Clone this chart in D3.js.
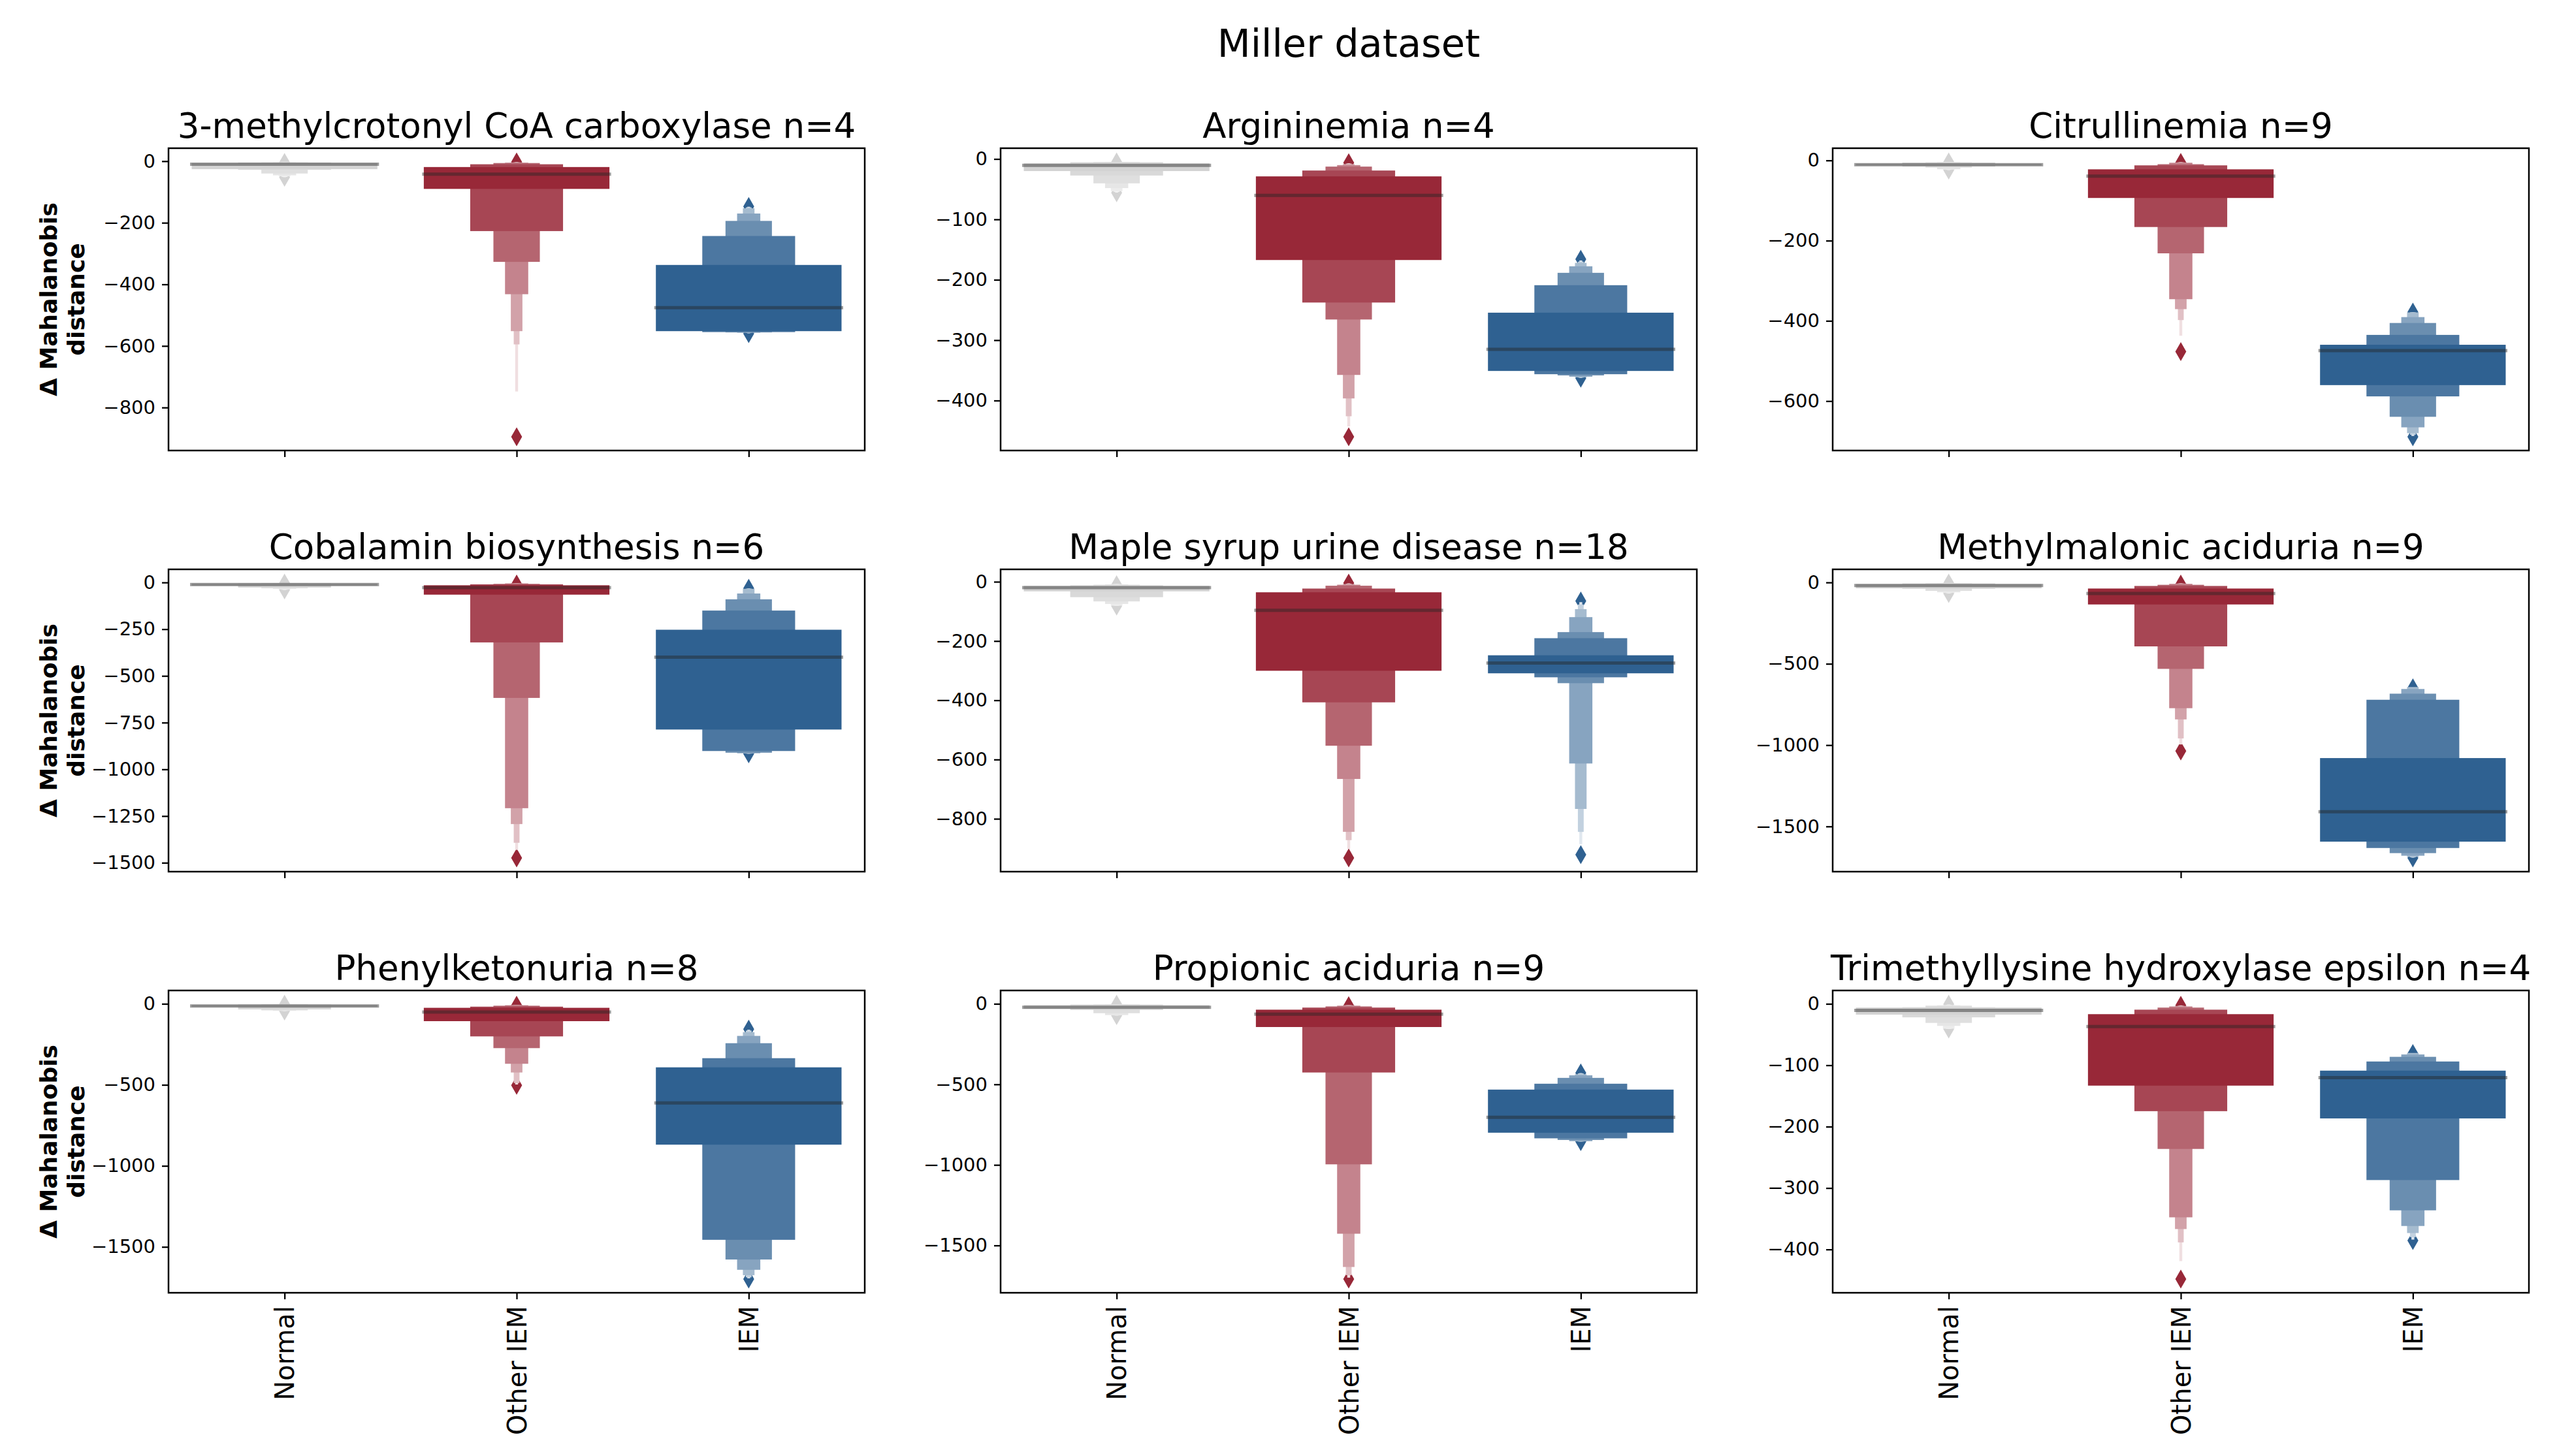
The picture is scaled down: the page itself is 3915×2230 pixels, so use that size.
<!DOCTYPE html>
<html>
<head>
<meta charset="utf-8">
<script src="https://d3js.org/d3.v7.min.js"></script>
<style>
  body { margin: 0; background: #fff; }
  text { font-family: "DejaVu Sans", sans-serif; fill: #000; }
</style>
</head>
<body>
<svg width="3915" height="2230"></svg>
<script>
// panel titles, one per disease
var titles = [
  "3-methylcrotonyl CoA carboxylase n=4", "Argininemia n=4", "Citrullinemia n=9",
  "Cobalamin biosynthesis n=6", "Maple syrup urine disease n=18", "Methylmalonic aciduria n=9",
  "Phenylketonuria n=8", "Propionic aciduria n=9", "Trimethyllysine hydroxylase epsilon n=4"
];
var groups = ["Normal", "Other IEM", "IEM"];
var groupColors = ["#d3d3d3", "#982838", "#2f6191"];

// medians per panel: [Normal, Other IEM, IEM]
var medians = [
  [-10, -42, -476],
  [-10.5, -60.3, -315.2],
  [-10.5, -39.2, -474.3],
  [-11.3, -27.6, -400],
  [-19.8, -96.4, -274.3],
  [-18.7, -67.7, -1409.4],
  [-13, -50.6, -611.8],
  [-21.8, -64, -704.1],
  [-10.7, -37, -120.2]
];

// letter values [low, high], from the quartile box outwards
var letterValues = [
  [ [[-26,-6],[-28,-4.5],[-40,-4],[-46,-4],[-49,-4],[-51,-4],[-52,-4]],
    [[-90,-19],[-227,-10],[-327,-6],[-432,-5],[-552,-4],[-595,-3.5],[-748,-3]],
    [[-552,-337],[-555,-243],[-556,-194],[-557,-170],[-557,-153],[-558,-150],[-559,-148]] ],
  [ [[-20,-7.2],[-27.4,-5.4],[-40.3,-5],[-48.2,-5],[-53.3,-5],[-54.5,-5],[-55.5,-5]],
    [[-167.3,-28.8],[-237.7,-19.1],[-265.8,-12.6],[-357.6,-10.1],[-396.5,-8.5],[-426,-7.5],[-442.8,-7]],
    [[-351,-254.5],[-356.4,-209],[-358.4,-188.5],[-360.5,-177.7],[-361.5,-172],[-362,-170],[-362.5,-168]] ],
  [ [[-13,-8],[-15,-5.5],[-18,-4.5],[-22,-4],[-23,-4],[-23.5,-4],[-24,-4]],
    [[-93.6,-22.2],[-166,-12.3],[-231.6,-9.4],[-346,-5.8],[-370.8,-5],[-398,-4.5],[-437,-4.2]],
    [[-560.2,-459.6],[-588.3,-435],[-639.2,-405.3],[-665.5,-390.6],[-680,-379],[-684,-378.5],[-687,-378.2]] ],
  [ [[-17.5,-5.5],[-27.6,-5],[-31,-4.5],[-34,-4.5],[-37,-4],[-39,-4],[-40,-4]],
    [[-65.2,-15],[-320.8,-10],[-617.8,-7.5],[-1208,-5],[-1293,-4.5],[-1393,-4],[-1431,-4]],
    [[-787,-253],[-902,-150.4],[-911,-90.2],[-914,-59],[-915,-34],[-916,-33],[-916.5,-32]] ],
  [ [[-32.4,-14],[-52,-12],[-66.4,-10],[-75,-9],[-80.6,-8],[-81,-8],[-81.5,-8]],
    [[-300.4,-35.6],[-407,-23],[-553.4,-13.4],[-665.6,-10],[-844,-8],[-872,-6.5],[-901,-5.5]],
    [[-309,-248.2],[-322.5,-190.5],[-342.3,-170],[-613.4,-119.4],[-766.8,-92.5],[-844.3,-76.7],[-885.4,-68.8]] ],
  [ [[-36,-10],[-38.9,-6],[-51.8,-5],[-60.5,-4.5],[-64,-4.5],[-66,-4.2],[-67,-4]],
    [[-135.3,-37.4],[-393,-21.6],[-531.2,-14.4],[-773,-8.6],[-842,-7],[-958.8,-6],[-996,-5.5]],
    [[-1593.6,-1079.7],[-1632.5,-721.2],[-1664,-683.8],[-1680,-655],[-1687,-643],[-1690,-646],[-1692,-647]] ],
  [ [[-20,-6],[-34.7,-4.5],[-40.5,-4],[-42,-4],[-43.5,-3.5],[-44,-3],[-44.5,-3]],
    [[-107,-24.6],[-201,-17.4],[-273.4,-11.6],[-370,-8.7],[-423.8,-7],[-488.9,-6],[-498,-7]],
    [[-869.2,-392],[-1456.4,-335.5],[-1578,-243],[-1641.5,-198],[-1675,-175],[-1688,-165],[-1694,-160]] ],
  [ [[-30.6,-8.7],[-37.8,-4.4],[-58.2,-4],[-69.8,-3.5],[-71,-3.5],[-72,-3],[-72.5,-3]],
    [[-144,-36.4],[-426.3,-23.3],[-996.5,-16],[-1427.2,-11.6],[-1633.7,-9],[-1684.7,-8],[-1700,-9]],
    [[-800.1,-532.5],[-835,-496],[-845.2,-459.7],[-852.5,-443.7],[-854,-437],[-855,-432],[-855.2,-430]] ],
  [ [[-17.6,-6],[-22,-5.5],[-31,-3],[-35.9,-2.5],[-40.5,-2],[-40.8,-1.5],[-41,-1.2]],
    [[-133.2,-16.8],[-174.8,-9.5],[-236.3,-6.1],[-347.7,-4.2],[-366.8,-3.5],[-388.5,-3],[-419,-2.5]],
    [[-186.6,-108.8],[-287,-93.9],[-336.3,-86.3],[-361.8,-82.4],[-373.3,-80],[-380,-80.5],[-384,-80.7]] ]
];

// outlier points per panel and group
var outliers = [
  [[-4, -52], [-2.5, -895], [-147, -560]],
  [[-4.9, -56], [-6.1, -460], [-166, -363]],
  [[-3.8, -24], [-5, -476.6], [-378, -689]],
  [[-3.3, -40], [-8, -1474], [-31, -917]],
  [[-10, -82], [-4.5, -932], [-64.8, -921]],
  [[-3.9, -67.7], [-10, -1036.5], [-647.8, -1693.4]],
  [[-2.4, -44.8], [-8.7, -503.3], [-156, -1698.5]],
  [[-2.4, -72.7], [-11.6, -1708.5], [-429, -855.4]],
  [[-0.6, -41], [-2.3, -448.2], [-80.9, -385.5]]
];

var yTicks = [
  [0, -200, -400, -600, -800],
  [0, -100, -200, -300, -400],
  [0, -200, -400, -600],
  [0, -250, -500, -750, -1000, -1250, -1500],
  [0, -200, -400, -600, -800],
  [0, -500, -1000, -1500],
  [0, -500, -1000, -1500],
  [0, -500, -1000, -1500],
  [0, -100, -200, -300, -400]
];

var svg = d3.select("svg"),
    colLeft = [258, 1532, 2806],
    rowTop = [227, 872, 1517],
    axW = 1066, axH = 463;

svg.append("text")
    .attr("x", 2065).attr("y", 87)
    .attr("text-anchor", "middle")
    .attr("font-size", 59)
    .text("Miller dataset");

var fmt = function(d) { return String(d).replace("-", "\u2212"); };

titles.forEach(function(title, p) {
  var col = p % 3, row = Math.floor(p / 3);
  var g = svg.append("g").attr("transform", "translate(" + colLeft[col] + "," + rowTop[row] + ")");

  var vals = medians[p].slice();
  letterValues[p].forEach(function(lv) { lv.forEach(function(b) { vals.push(b[0], b[1]); }); });
  outliers[p].forEach(function(o) { vals = vals.concat(o); });
  var lo = d3.min(vals), hi = d3.max(vals), pad = (hi - lo) * 0.05;

  var y = d3.scaleLinear().domain([lo - pad, hi + pad]).range([axH, 0]);
  var x = d3.scaleLinear().domain([-0.5, 2.5]).range([0, axW]);
  var unit = x(1) - x(0);

  groups.forEach(function(grp, k) {
    var color = groupColors[k];
    var lv = letterValues[p][k], n = lv.length;
    var shade = d3.interpolateRgb(color, "#ffffff");

    // outliers sit behind the boxes
    g.selectAll(null)
      .data(outliers[p][k])
      .enter().append("path")
        .attr("d", "M0,-13L7.5,0L0,13L-7.5,0Z")
        .attr("transform", function(d) { return "translate(" + x(k) + "," + y(d) + ")"; })
        .attr("fill", color)
        .attr("stroke", color)
        .attr("stroke-width", 1.5);

    // outermost box first, quartile box on top
    var order = d3.range(n).reverse();
    g.selectAll(null)
      .data(order)
      .enter().append("rect")
        .attr("x", function(j) { return x(k) - 0.4 * unit * Math.pow(2, -j); })
        .attr("width", function(j) { return 0.8 * unit * Math.pow(2, -j); })
        .attr("y", function(j) { return y(lv[j][1]); })
        .attr("height", function(j) { return y(lv[j][0]) - y(lv[j][1]); })
        .attr("fill", function(j) { return shade(n > 1 ? 0.85 * j / (n - 1) : 0); });
  });

  // medians
  g.selectAll(null)
    .data(medians[p])
    .enter().append("line")
      .attr("x1", function(d, k) { return x(k - 0.4); })
      .attr("x2", function(d, k) { return x(k + 0.4); })
      .attr("y1", function(d) { return y(d); })
      .attr("y2", function(d) { return y(d); })
      .attr("stroke", "#262626")
      .attr("stroke-opacity", 0.45)
      .attr("stroke-width", 5)
      .attr("stroke-linecap", "square");

  var yAxis = g.append("g")
      .call(d3.axisLeft(y).tickValues(yTicks[p]).tickSize(10).tickPadding(10).tickFormat(fmt));
  yAxis.select(".domain").remove();
  yAxis.selectAll("line").attr("stroke-width", 2.3);
  yAxis.selectAll("text").attr("font-size", 29).attr("font-family", "DejaVu Sans");

  var xAxis = g.append("g")
      .attr("transform", "translate(0," + axH + ")")
      .call(d3.axisBottom(x).tickValues([0, 1, 2]).tickSize(10)
        .tickFormat(function(i) { return row === 2 ? groups[i] : ""; }));
  xAxis.select(".domain").remove();
  xAxis.selectAll("line").attr("stroke-width", 2.3);
  xAxis.selectAll("text")
      .attr("font-size", 40)
      .attr("font-family", "DejaVu Sans")
      .attr("transform", "rotate(-90)")
      .attr("text-anchor", "end")
      .attr("x", -20).attr("y", 0).attr("dy", "0.35em");

  g.append("rect")
      .attr("width", axW).attr("height", axH)
      .attr("fill", "none").attr("stroke", "#000").attr("stroke-width", 2.5);

  g.append("text")
      .attr("x", axW / 2).attr("y", -16)
      .attr("text-anchor", "middle")
      .attr("font-size", 53)
      .text(title);

  if (col === 0) {
    ["\u0394 Mahalanobis", "distance"].forEach(function(line, i) {
      svg.append("text")
          .attr("transform", "translate(" + (73 + 42 * i) + "," + (rowTop[row] + axH / 2) + ") rotate(-90)")
          .attr("text-anchor", "middle")
          .attr("dy", "0.38em")
          .attr("font-size", 36)
          .attr("font-weight", "bold")
          .text(line);
    });
  }
});
</script>
</body>
</html>
